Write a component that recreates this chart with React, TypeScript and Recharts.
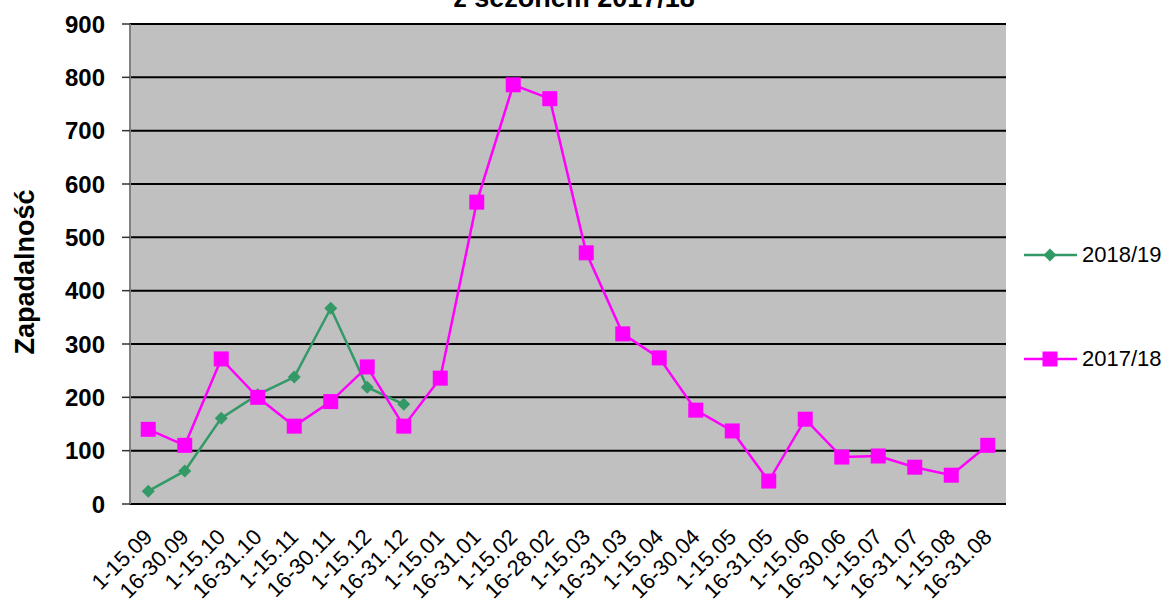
import React from "react";
import { CartesianGrid, Legend, Line, LineChart, XAxis, YAxis } from "recharts";

const periods = [
  "1-15.09", "16-30.09", "1-15.10", "16-31.10", "1-15.11", "16-30.11",
  "1-15.12", "16-31.12", "1-15.01", "16-31.01", "1-15.02", "16-28.02",
  "1-15.03", "16-31.03", "1-15.04", "16-30.04", "1-15.05", "16-31.05",
  "1-15.06", "16-30.06", "1-15.07", "16-31.07", "1-15.08", "16-31.08",
];

const season1819 = [24, 62, 161, 205, 238, 367, 219, 187];

const season1718 = [
  140, 110, 272, 200, 146, 192, 257, 146, 236, 566, 786, 760,
  471, 319, 274, 176, 137, 43, 159, 88, 90, 69, 54, 110,
];

const yTicks = [0, 100, 200, 300, 400, 500, 600, 700, 800, 900];
const boundaryTicks = periods.map((_, i) => i).concat(periods.length);

const data = periods.map((label, i) => ({
  label,
  s1819: i < season1819.length ? season1819[i] : null,
  s1718: season1718[i],
}));

const GREEN = "#339966";
const PINK = "#FF00FF";
const FONT = "'Liberation Sans', Arial, sans-serif";

function Diamond({ cx, cy, fill }: any) {
  if (cx == null || cy == null) return null;
  const r = 6.5;
  return <path d={`M${cx},${cy - r}L${cx + r},${cy}L${cx},${cy + r}L${cx - r},${cy}Z`} fill={fill} />;
}

function Square({ cx, cy, fill }: any) {
  if (cx == null || cy == null) return null;
  const r = 7.5;
  return <rect x={cx - r} y={cy - r} width={r * 2} height={r * 2} fill={fill} />;
}

function PeriodTick({ x, y, payload }: any) {
  const ax = x;
  const ay = y + 21;
  return (
    <text
      x={ax}
      y={ay}
      transform={`rotate(-45, ${ax}, ${ay})`}
      textAnchor="end"
      dominantBaseline="central"
      fontSize={22}
      fontFamily={FONT}
      fill="#000"
    >
      {payload.value}
    </text>
  );
}

function renderLegend() {
  const items = [
    { name: "2018/19", color: GREEN, marker: "diamond" },
    { name: "2017/18", color: PINK, marker: "square" },
  ];
  return (
    <div style={{ fontFamily: FONT }}>
      {items.map((it, i) => (
        <div key={it.name} style={{ display: "flex", alignItems: "center", height: 30, marginTop: i ? 74 : 0 }}>
          <svg width={53} height={30}>
            <line x1={0} y1={15} x2={53} y2={15} stroke={it.color} strokeWidth={2.5} />
            {it.marker === "diamond" ? (
              <Diamond cx={26} cy={15} fill={it.color} />
            ) : (
              <Square cx={26} cy={15} fill={it.color} />
            )}
          </svg>
          <span style={{ fontSize: 22, marginLeft: 5, color: "#000" }}>{it.name}</span>
        </div>
      ))}
    </div>
  );
}

export default function App() {
  return (
    <div style={{ position: "absolute", left: 0, top: 0, width: 1164, height: 603, background: "#fff", fontFamily: FONT }}>
      <LineChart width={1164} height={603} data={data} margin={{ top: 24, right: 158, bottom: 0, left: 0 }}>
        <CartesianGrid xAxisId="grid" vertical={false} fill="#C0C0C0" stroke="#000" strokeWidth={2} strokeOpacity={1} />
        <XAxis
          xAxisId="grid"
          type="number"
          domain={[0, periods.length]}
          ticks={boundaryTicks}
          tick={false}
          height={0}
          tickSize={8}
          axisLine={{ stroke: "#333", strokeWidth: 2 }}
          tickLine={{ stroke: "#333", strokeWidth: 1.5 }}
        />
        <XAxis
          xAxisId="cat"
          dataKey="label"
          scale="band"
          interval={0}
          height={99}
          axisLine={false}
          tickLine={false}
          tick={<PeriodTick />}
        />
        <YAxis
          domain={[0, 900]}
          ticks={yTicks}
          width={130}
          tickSize={8}
          tickMargin={17}
          axisLine={{ stroke: "#808080", strokeWidth: 2 }}
          tickLine={{ stroke: "#333", strokeWidth: 1.5 }}
          tick={{ fontSize: 24, fontWeight: "bold", fill: "#000", fontFamily: FONT }}
        />
        <Legend
          layout="vertical"
          align="center"
          verticalAlign="middle"
          content={renderLegend}
          wrapperStyle={{ left: 1024, top: 240, width: 140 }}
        />
        <Line
          xAxisId="cat"
          dataKey="s1819"
          name="2018/19"
          stroke={GREEN}
          strokeWidth={2.5}
          dot={<Diamond fill={GREEN} />}
          activeDot={false}
          connectNulls={false}
          isAnimationActive={false}
        />
        <Line
          xAxisId="cat"
          dataKey="s1718"
          name="2017/18"
          stroke={PINK}
          strokeWidth={2.5}
          dot={<Square fill={PINK} />}
          activeDot={false}
          isAnimationActive={false}
        />
      </LineChart>
      <svg width={1164} height={603} style={{ position: "absolute", left: 0, top: 0, pointerEvents: "none" }}>
        <text x={574} y={6.5} textAnchor="middle" fontSize={27} fontWeight="bold" fontFamily={FONT} fill="#000">
          z sezonem 2017/18
        </text>
        <text
          x={25}
          y={272}
          transform="rotate(-90, 25, 272)"
          textAnchor="middle"
          dominantBaseline="central"
          fontSize={27}
          fontWeight="bold"
          fontFamily={FONT}
          fill="#000"
        >
          Zapadalność
        </text>
      </svg>
    </div>
  );
}
